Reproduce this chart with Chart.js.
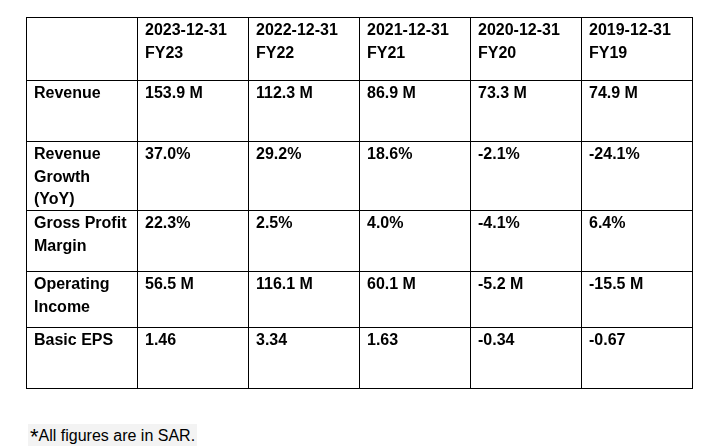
<!DOCTYPE html>
<html><head><meta charset="utf-8">
<script src="https://cdn.jsdelivr.net/npm/chart.js@4/dist/chart.umd.min.js"></script>
<style>html,body{margin:0;background:#fff;overflow:hidden}#w{position:relative;width:717px;height:446px}
#note{position:absolute;left:28px;top:424px;font:16px "Liberation Sans",Arial,sans-serif;color:#000;background:#f3f3f3;padding:0 2px;line-height:20px}
#note b{font-weight:normal;font-size:22px;position:relative;top:3px}</style>
</head><body><div id="w"><canvas id="c" width="717" height="446"></canvas>
<div id="note"><b>*</b>All figures are in SAR.</div></div>
<script>
const periods = ["2023-12-31\nFY23","2022-12-31\nFY22","2021-12-31\nFY21","2020-12-31\nFY20","2019-12-31\nFY19"];
const metrics = ["Revenue","Revenue\nGrowth\n(YoY)","Gross Profit\nMargin","Operating\nIncome","Basic EPS"];
const revenue = ["153.9 M","112.3 M","86.9 M","73.3 M","74.9 M"];
const revenueGrowth = ["37.0%","29.2%","18.6%","-2.1%","-24.1%"];
const grossMargin = ["22.3%","2.5%","4.0%","-4.1%","6.4%"];
const operatingIncome = ["56.5 M","116.1 M","60.1 M","-5.2 M","-15.5 M"];
const basicEps = ["1.46","3.34","1.63","-0.34","-0.67"];
const rowsData = [revenue,revenueGrowth,grossMargin,operatingIncome,basicEps];
// row boundaries (layout, in scale units)
const rowEdges = [0,63,124,193,254,310,371];

const textPlugin = {id:'txt', afterDraw(ch){
  const c=ch.ctx, x=ch.scales.x, y=ch.scales.y;
  c.save(); c.fillStyle='#000'; c.font='bold 16px "Liberation Sans", Arial, sans-serif'; c.textBaseline='top';
  const cell=(txt,col,row)=>{
    const px=x.getPixelForValue(col)+8, py=y.getPixelForValue(rowEdges[row])+6;
    txt.split('\n').forEach((l,i)=>c.fillText(l,px,py+i*22.5));
  };
  periods.forEach((p,i)=>cell(p,i+1,0));
  metrics.forEach((m,r)=>{cell(m,0,r+1); rowsData[r].forEach((v,i)=>cell(v,i+1,r+1));});
  c.restore();
}};
new Chart(document.getElementById('c'),{
  type:'scatter', data:{datasets:[{data:[]}]},
  options:{responsive:false,animation:false,events:[],
    layout:{padding:{left:26,top:17,right:25,bottom:58}},
    plugins:{legend:{display:false},tooltip:{enabled:false}},
    scales:{
      x:{type:'linear',min:0,max:6,position:'bottom',
        afterBuildTicks:s=>{s.ticks=[0,1,2,3,4,5,6].map(v=>({value:v}));},
        ticks:{display:false},grid:{color:'#000',lineWidth:1,drawTicks:false},border:{display:true,color:'#000'}},
      y:{type:'linear',min:0,max:371,reverse:true,
        afterBuildTicks:s=>{s.ticks=rowEdges.map(v=>({value:v}));},
        ticks:{display:false},grid:{color:'#000',lineWidth:1,drawTicks:false},border:{display:true,color:'#000'}}
    }},
  plugins:[textPlugin]
});
</script></body></html>
